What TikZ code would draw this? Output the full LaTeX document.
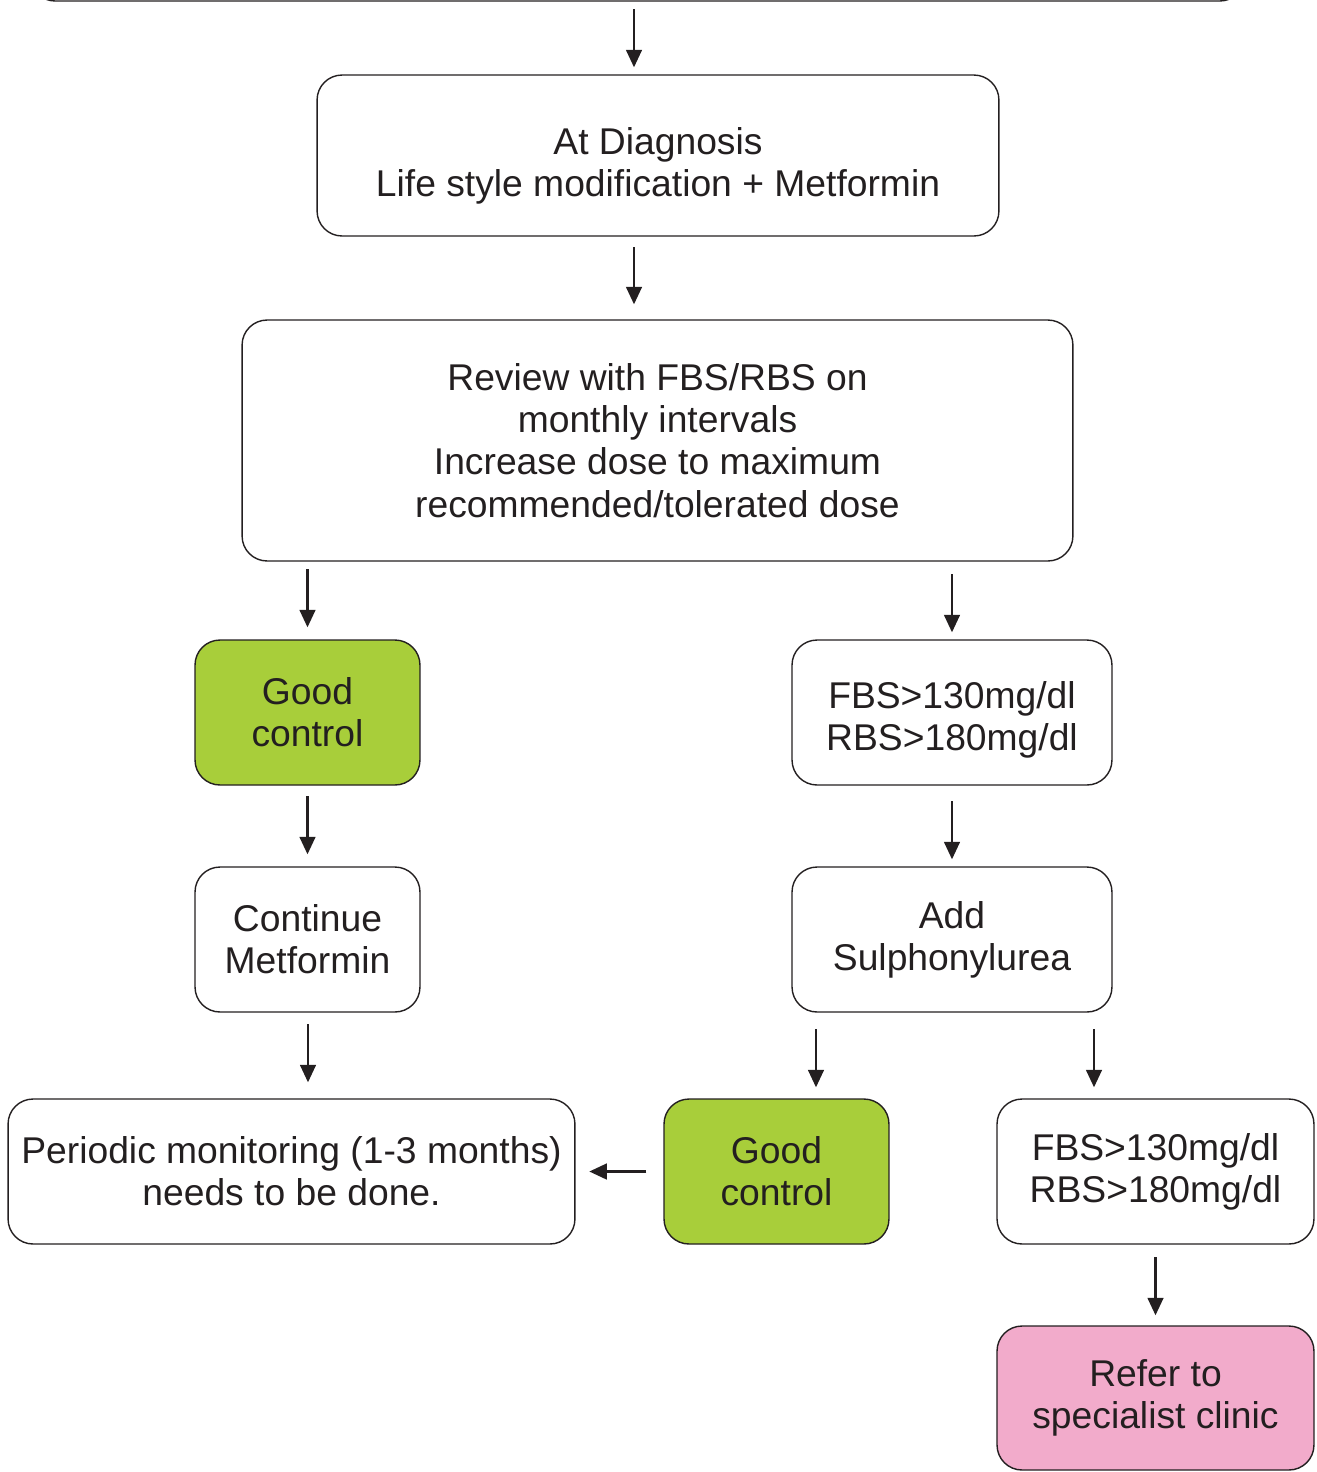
\documentclass[tikz,border=0pt]{standalone}
\usepackage{fontspec}
\setmainfont{Liberation Sans}
\usetikzlibrary{arrows.meta}
\definecolor{vert}{HTML}{A8CE3A}
\definecolor{rose}{HTML}{F2ABCB}
\definecolor{encre}{HTML}{231F20}
\tikzset{
  boite/.style={draw=encre, line width=0.8pt, rounded corners=0.5cm, align=center,
    inner sep=0pt, text=encre, font=\fontsize{21.2}{24}\selectfont},
  fleche/.style={-{Triangle[length=10pt,width=9pt]}, line width=1.3pt, draw=encre},
}
\begin{document}
\begin{tikzpicture}[x=0.02cm, y=-0.02cm]
  \useasboundingbox (0,0) rectangle (1317,1472);
  \clip (0,0) rectangle (1317,1472);

  % les boites
  \node[boite, minimum width=24.3cm, minimum height=2cm] (haut) at (637.5,-49) {};
  \node[boite, minimum width=13.64cm, minimum height=3.22cm] (diag) at (658,155.5)
    {\rule{0pt}{1.3em}At Diagnosis\\Life style modification + Metformin};
  \node[boite, minimum width=16.62cm, minimum height=4.82cm] (revue) at (657.5,440.5)
    {Review with FBS/RBS on\\monthly intervals\\Increase dose to maximum\\recommended/tolerated dose};
  \node[boite, fill=vert, minimum width=4.5cm, minimum height=2.9cm] (bon1) at (307.5,712.5)
    {Good\\control};
  \node[boite, minimum width=6.4cm, minimum height=2.9cm] (fbs1) at (952,712.5)
    {\rule{0pt}{1.1em}FBS>130mg/dl\\RBS>180mg/dl};
  \node[boite, minimum width=4.5cm, minimum height=2.9cm] (cont) at (307.5,939.5)
    {Continue\\Metformin};
  \node[boite, minimum width=6.4cm, minimum height=2.9cm] (sulf) at (952,939.5)
    {Add\\Sulphonylurea};
  \node[boite, minimum width=11.34cm, minimum height=2.9cm] (suivi) at (291.5,1171.5)
    {Periodic monitoring (1-3 months)\\needs to be done.};
  \node[boite, fill=vert, minimum width=4.5cm, minimum height=2.9cm] (bon2) at (776.5,1171.5)
    {Good\\control};
  \node[boite, minimum width=6.34cm, minimum height=2.9cm] (fbs2) at (1155.5,1171.5)
    {FBS>130mg/dl\\RBS>180mg/dl};
  \node[boite, fill=rose, minimum width=6.34cm, minimum height=2.88cm] (refer) at (1155.5,1398)
    {Refer to\\specialist clinic};

  % les flèches (cible / décalage x / écart bas / écart haut)
  \foreach \cible/\dx/\bas/\hautt in {diag/-0.48/0.14/1.3, revue/-0.47/0.3/1.44,
      bon1/0/0.24/1.4, fbs1/0/0.14/1.3, cont/0/0.24/1.4, sulf/0/0.14/1.3,
      suivi/0.33/0.32/1.48, bon2/0.79/0.22/1.38, fbs2/-1.23/0.22/1.38, refer/0/0.2/1.36}
    \draw[fleche] ([xshift=\dx cm, yshift=\hautt cm]\cible.north) -- ([xshift=\dx cm, yshift=\bas cm]\cible.north);
  \draw[fleche] ([xshift=-0.34cm]bon2.west) -- ([xshift=-1.48cm]bon2.west);
\end{tikzpicture}
\end{document}
